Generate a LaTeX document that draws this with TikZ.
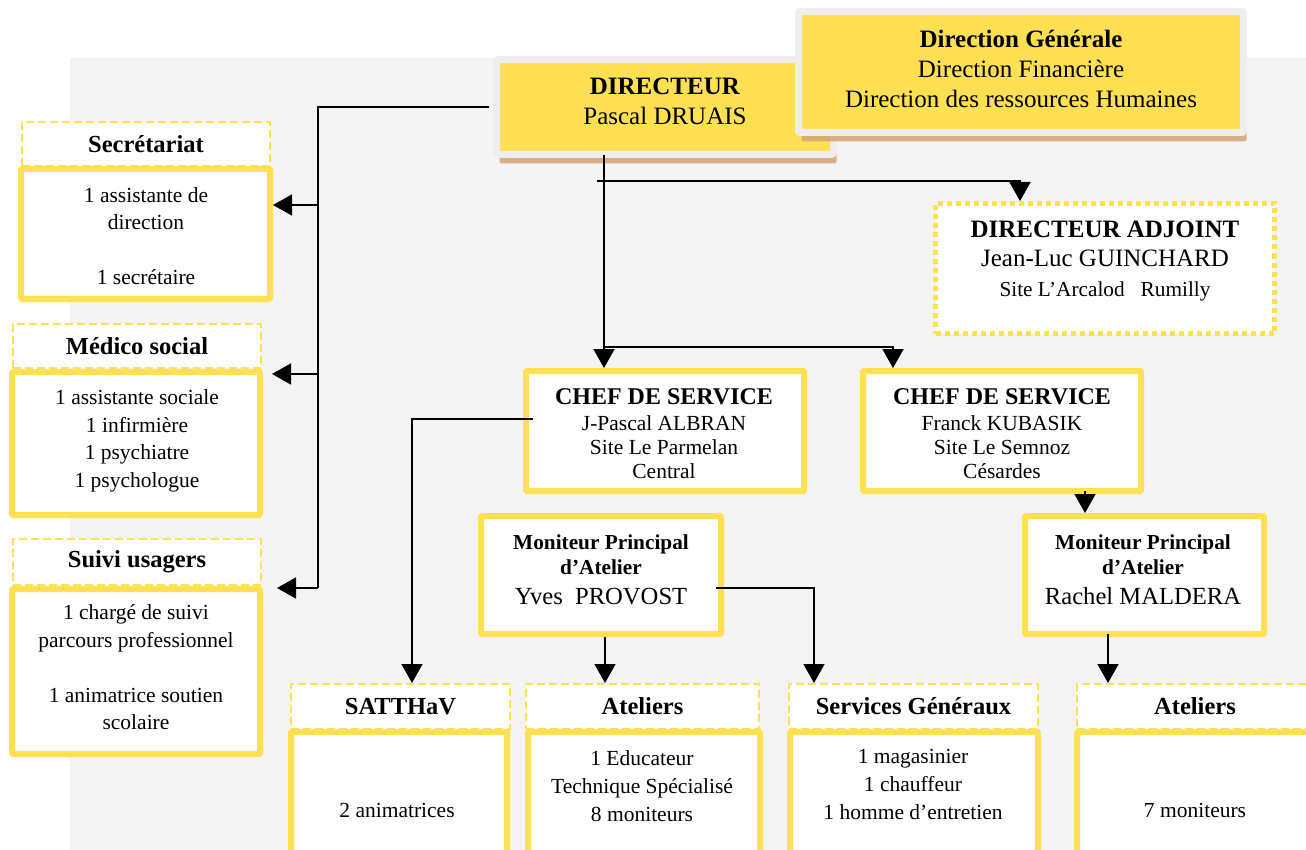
\documentclass[tikz,border=0pt]{standalone}
\usepackage{fontspec}
\setmainfont{Liberation Serif}
\usepackage{tikz}
\usetikzlibrary{arrows.meta,shadows}

\definecolor{boxyellow}{RGB}{255,224,82}
\definecolor{panelgrey}{RGB}{244,244,244}
\definecolor{framegrey}{RGB}{238,238,238}
\definecolor{shadowtan}{RGB}{211,165,118}

\begin{document}
\begin{tikzpicture}[x=1pt,y=-1pt,
    link/.style={line width=1.6pt},
    arr/.style={link,-{Triangle[width=21pt,length=19pt]}},
    topbox/.style={fill=boxyellow,draw=framegrey,line width=7pt,rounded corners=2pt,
      drop shadow={shadow xshift=3pt,shadow yshift=-9pt,fill=shadowtan,opacity=.85}},
    unitbox/.style={fill=white,draw=boxyellow,line width=6pt,rounded corners=1pt},
    headbox/.style={fill=white,draw=boxyellow,line width=2pt,dash pattern=on 8pt off 4pt,
      font=\fontsize{24.5}{29}\selectfont\bfseries},
    adjbox/.style={fill=white,draw=boxyellow,line width=5pt,dash pattern=on 5pt off 4pt},
    txt/.style={align=center,font=\fontsize{21.5}{27.7}\selectfont},
  ]
    \useasboundingbox (0,0) rectangle (1306,850);
    \clip (0,0) rectangle (1306,850);
    \fill[panelgrey] (70,58) rectangle (1306,850);

    % direction
    \node[topbox,minimum width=337pt,minimum height=95pt] (dir) at (665,107) {};
    \node[txt,font=\fontsize{25}{30}\selectfont] (dirTxt) at (665,101) {\textbf{DIRECTEUR}\\Pascal DRUAIS};
    \node[topbox,minimum width=445pt,minimum height=121pt] (dg) at (1021,72) {};
    \node[txt,font=\fontsize{25}{30}\selectfont] (dgTxt) at (1021,69)
      {\textbf{Direction Générale}\\Direction Financière\\Direction des ressources Humaines};
    \node[adjbox,minimum width=339pt,minimum height=130pt] (adj) at (1105,268.5) {};
    \node[txt,font=\fontsize{25}{29.5}\selectfont] (adjTxt) at (1105,261)
      {\textbf{DIRECTEUR ADJOINT}\\Jean-Luc GUINCHARD\\{\fontsize{21.3}{25}\selectfont Site L’Arcalod~~~Rumilly}};

    % services de gauche
    \node[headbox,minimum width=248pt,minimum height=44pt] (secHead) at (146,144) {Secrétariat};
    \node[unitbox,minimum width=249pt,minimum height=130pt] (secBody) at (145.5,234) {};
    \node[txt] (secTxt) at (146,236) {1 assistante de\\direction\\[27pt]1 secrétaire};
    \node[headbox,minimum width=248pt,minimum height=44pt] (medHead) at (137,346) {Médico social};
    \node[unitbox,minimum width=248pt,minimum height=143pt] (medBody) at (136,443.5) {};
    \node[txt] (medTxt) at (137,441) {1 assistante sociale\\1 infirmière\\1 psychiatre\\1 psychologue};
    \node[headbox,minimum width=248pt,minimum height=46pt] (suiHead) at (137,562) {Suivi usagers};
    \node[unitbox,minimum width=248pt,minimum height=165pt] (suiBody) at (136,671.5) {};
    \node[txt] (suiTxt) at (136,667.5)
      {1 chargé de suivi\\parcours professionnel\\[27pt]1 animatrice soutien\\scolaire};

    % chefs de service
    \node[unitbox,minimum width=278pt,minimum height=120pt] (chefA) at (665,431) {};
    \node[txt,font=\fontsize{21.5}{24}\selectfont] (chefATxt) at (664,434)
      {{\fontsize{24}{24}\selectfont\bfseries CHEF DE SERVICE}\\[2pt]J-Pascal ALBRAN\\Site Le Parmelan\\Central};
    \node[unitbox,minimum width=278pt,minimum height=120pt] (chefB) at (1002,431) {};
    \node[txt,font=\fontsize{21.5}{24}\selectfont] (chefBTxt) at (1002,434)
      {{\fontsize{24}{24}\selectfont\bfseries CHEF DE SERVICE}\\[2pt]Franck KUBASIK\\Site Le Semnoz\\Césardes};
    \node[unitbox,minimum width=240pt,minimum height=118pt] (monA) at (601,575) {};
    \node[txt,font=\fontsize{21.3}{25}\selectfont\bfseries] (monATxt) at (601,569.5)
      {Moniteur Principal\\d’Atelier\\[5pt]{\mdseries\fontsize{24.6}{30}\selectfont Yves~~PROVOST}};
    \node[unitbox,minimum width=239pt,minimum height=118pt] (monB) at (1144.5,575) {};
    \node[txt,font=\fontsize{21.3}{25}\selectfont\bfseries] (monBTxt) at (1143,569.5)
      {Moniteur Principal\\d’Atelier\\[5pt]{\mdseries\fontsize{24.6}{30}\selectfont Rachel MALDERA}};

    % ateliers et services
    \node[headbox,minimum width=219pt,minimum height=45pt] (sat) at (400.5,706.5) {SATTHaV};
    \node[unitbox,minimum width=216pt,minimum height=168pt] (satBody) at (399,816) {};
    \node[txt] (satTxt) at (397,810) {2 animatrices};
    \node[headbox,minimum width=233pt,minimum height=45pt] (atA) at (642.5,706.5) {Ateliers};
    \node[unitbox,minimum width=232pt,minimum height=168pt] (atABody) at (644,816) {};
    \node[txt,font=\fontsize{21.5}{28}\selectfont] (atATxt) at (642,786)
      {1 Educateur\\Technique Spécialisé\\8 moniteurs};
    \node[headbox,minimum width=249pt,minimum height=45pt] (serv) at (913.5,706.5) {Services Généraux};
    \node[unitbox,minimum width=248pt,minimum height=168pt] (servBody) at (914,816) {};
    \node[txt] (servTxt) at (913,784.5) {1 magasinier\\1 chauffeur\\1 homme d’entretien};
    \node[headbox,minimum width=236pt,minimum height=45pt] (atB) at (1195,706.5) {Ateliers};
    \node[unitbox,minimum width=236pt,minimum height=168pt] (atBBody) at (1195,816) {};
    \node[txt] (atBTxt) at (1195,810) {7 moniteurs};

    % liaisons
    \coordinate (leftBus) at (318,107);
    \coordinate (leftEnd) at (318,588);
    \coordinate (tapSec) at (318,205);
    \coordinate (tapMed) at (318,374);
    \draw[link,shorten <=4pt] (dir.west) -- (leftBus) -- (leftEnd);
    \draw[arr] (tapSec) -- (tapSec -| secBody.east);
    \draw[arr,shorten >=9pt] (tapMed) -- (tapMed -| medBody.east);
    \draw[arr,shorten >=14pt] (leftEnd) -- (leftEnd -| suiBody.east);

    \coordinate (dirFoot) at (604,155);
    \draw[arr] (dirFoot) -- (dirFoot |- chefA.north);
    \coordinate (adjBus) at (597,181);
    \coordinate (adjTap) at (1020,181);
    \draw[arr] (adjBus) -- (adjTap) -- (adjTap |- adj.north);
    \coordinate (chefBus) at (604,347);
    \coordinate (chefTap) at (893,347);
    \draw[arr] (chefBus) -- (chefTap) -- (chefTap |- chefB.north);

    \coordinate (chefALeft) at (533,419);
    \coordinate (satTap) at (412,419);
    \draw[arr] (chefALeft) -- (satTap) -- (satTap |- sat.north);
    \coordinate (monAFoot) at (605,637);
    \draw[arr] (monAFoot) -- (monAFoot |- atA.north);
    \coordinate (monARight) at (716,588);
    \coordinate (servTap) at (814,588);
    \draw[arr] (monARight) -- (servTap) -- (servTap |- serv.north);

    \coordinate (chefBFoot) at (1085,491);
    \draw[arr] (chefBFoot) -- (chefBFoot |- monB.north);
    \coordinate (monBFoot) at (1108,634);
    \draw[arr] (monBFoot) -- (monBFoot |- atB.north);
\end{tikzpicture}
\end{document}
